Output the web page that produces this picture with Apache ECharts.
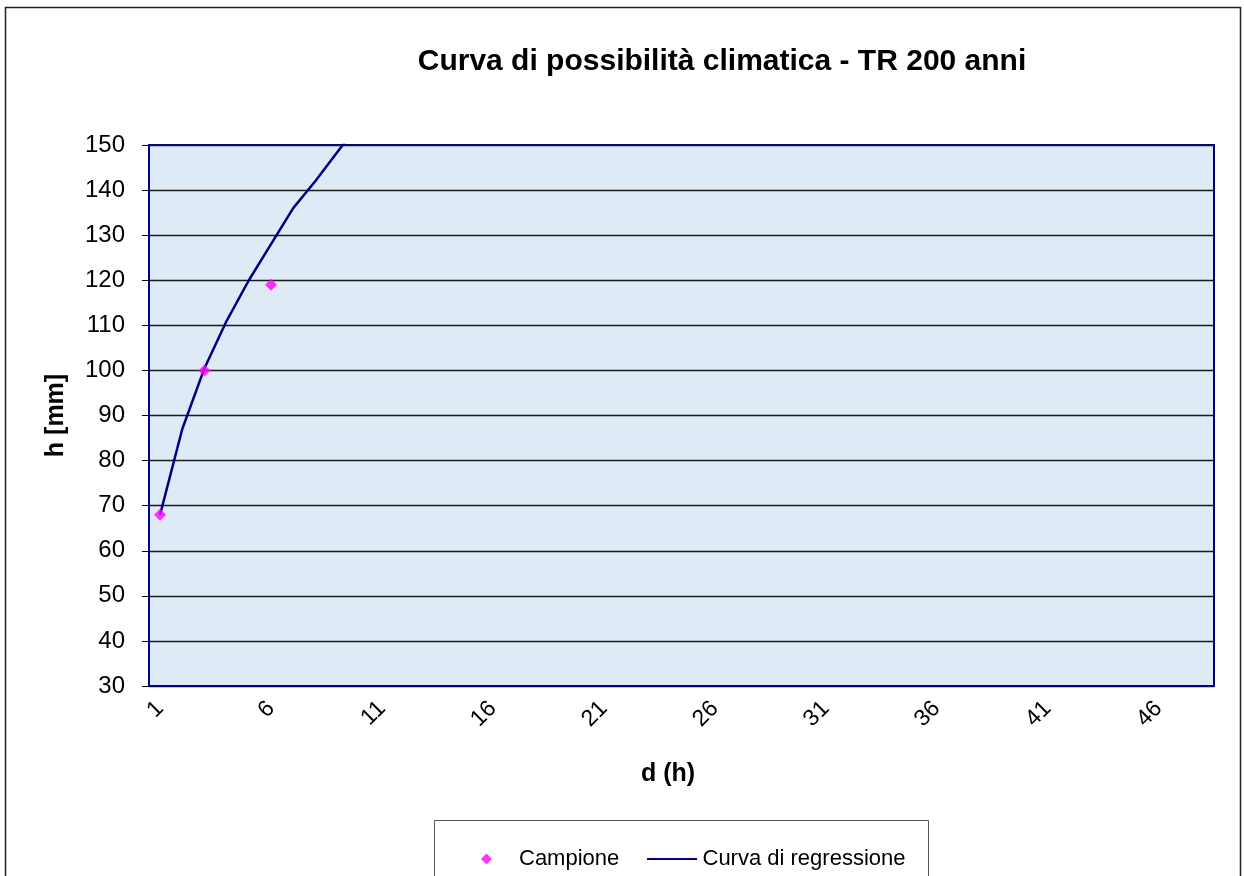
<!DOCTYPE html>
<html>
<head>
<meta charset="utf-8">
<script src="https://cdn.jsdelivr.net/npm/echarts@6/dist/echarts.min.js"></script>
<style>
html,body{margin:0;padding:0;background:#fff;}
#c{width:1244px;height:876px;}
</style>
</head>
<body>
<div id="c"></div>
<script>
// Durations d (h), categories 1..48
const categories = Array.from({length: 48}, (_, i) => String(i + 1));
// Sample points (campione): [category, h mm]
const campione = [['1', 68], ['3', 100], ['6', 119]];
// Regression curve at d = 1..10 (above 150 is clipped)
const curvaD = ['1','2','3','4','5','6','7','8','9','10'];
const curvaH = [68, 87, 100.5, 111, 120, 128, 136, 142, 148.5, 155];
const yTicks = {min: 30, max: 150, interval: 10};

const chart = echarts.init(document.getElementById('c'));
const font = 'Liberation Sans, Arial, sans-serif';
chart.setOption({
  animation: false,
  backgroundColor: '#ffffff',
  title: {
    text: 'Curva di possibilità climatica - TR 200 anni',
    left: 717, top: 42, textAlign: 'center',
    textStyle: {fontFamily: font, fontSize: 30, fontWeight: 'bold', color: '#000'}
  },
  graphic: [
    {type: 'rect', shape: {x: 5.5, y: 7.5, width: 1235, height: 900},
     style: {fill: 'none', stroke: '#222', lineWidth: 1.5}, z: -10},
    {type: 'rect', shape: {x: 434.5, y: 820.5, width: 494, height: 80},
     style: {fill: '#fff', stroke: '#555', lineWidth: 1}, z: -5}
  ],
  legend: [
    {data: [{name: 'Campione', icon: 'diamond'}], left: 476, top: 843,
     itemWidth: 11, itemHeight: 11, itemGap: 10,
     textStyle: {fontFamily: font, fontSize: 22, color: '#000', padding: [0,0,0,22]}},
    {data: [{name: 'Curva di regressione', icon: 'path://M0,0 L50,0 L50,2 L0,2 Z'}], left: 642, top: 843,
     itemWidth: 51, itemHeight: 2, itemGap: 10,
     textStyle: {fontFamily: font, fontSize: 22, color: '#000', padding: [0,0,0,0]}}
  ],
  grid: {left: 149, right: 30, top: 145, bottom: 190, show: true,
    backgroundColor: '#dfeaf7', borderColor: '#000080', borderWidth: 2},
  xAxis: {
    type: 'category', data: categories, boundaryGap: true,
    name: 'd (h)', nameLocation: 'middle', nameGap: 76,
    nameTextStyle: {fontFamily: font, fontSize: 25, fontWeight: 'bold', color: '#000', padding: [0, 27, 0, 0]},
    axisLine: {lineStyle: {color: '#000080', width: 2}},
    axisTick: {interval: 0, length: 8, lineStyle: {color: '#000', width: 1}},
    axisLabel: {interval: 4, rotate: 45, fontFamily: font, fontSize: 23, color: '#000', margin: 19},
    splitLine: {show: false}
  },
  yAxis: {
    type: 'value', min: yTicks.min, max: yTicks.max, interval: yTicks.interval,
    name: 'h [mm]', nameLocation: 'middle', nameGap: 80,
    nameTextStyle: {fontFamily: font, fontSize: 25, fontWeight: 'bold', color: '#000'},
    axisLine: {show: true, lineStyle: {color: '#000080', width: 2}},
    axisTick: {show: true, length: 7, lineStyle: {color: '#000'}},
    axisLabel: {fontFamily: font, fontSize: 24, color: '#000', margin: 24},
    splitLine: {lineStyle: {color: '#1a1a1a', width: 1.3}}
  },
  series: [
    {name: 'Curva di regressione', type: 'line', data: curvaD.map((d, i) => [d, curvaH[i]]),
     symbol: 'none', clip: true, lineStyle: {color: '#000080', width: 2.5}, itemStyle: {color: '#000080'}, z: 2},
    {name: 'Campione', type: 'scatter', data: campione, symbol: 'diamond', symbolSize: 12,
     itemStyle: {color: '#ff00ff'}, z: 3}
  ]
});
</script>
</body>
</html>
